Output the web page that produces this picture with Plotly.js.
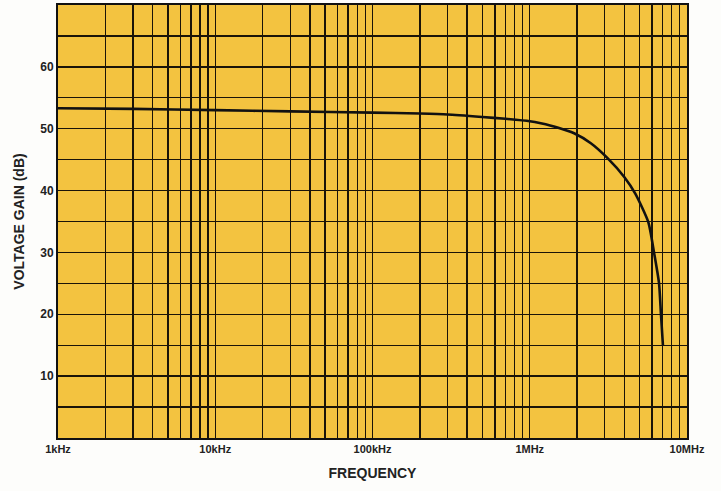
<!DOCTYPE html>
<html>
<head>
<meta charset="utf-8">
<script src="https://cdn.plot.ly/plotly-3.0.1.min.js"></script>
<style>html,body{margin:0;padding:0;background:#fdfdfb;}#chart{width:721px;height:491px;}</style>
</head>
<body>
<div id="chart"></div>
<script>
// Frequency (Hz) and voltage gain (dB)
const freqHz = [1e3, 3e3, 1e4, 3e4, 1e5, 2e5, 3e5, 5e5, 7e5, 1e6, 1.175e6, 1.5e6, 1.915e6, 2.446e6, 3.124e6, 3.99e6, 4.69e6, 5.675e6, 6.17e6, 6.64e6, 6.83e6, 7.03e6];
const gainDb = [53.3, 53.2, 53.0, 52.8, 52.6, 52.45, 52.3, 51.9, 51.6, 51.2, 50.87, 50.2, 49.26, 47.65, 45.24, 42.2, 39.5, 34.9, 30.0, 25.0, 20.0, 15.0];

// Axis labels
const decadeVals = [1e3, 1e4, 1e5, 1e6, 1e7];
const decadeLabels = ["1kHz", "10kHz", "100kHz", "1MHz", "10MHz"];
const yLabelVals = [10, 20, 30, 40, 50, 60];
const yGridStep = 5;

// Grid positions: 1..9 within each decade
const xTickVals = [], xTickText = [];
decadeVals.forEach((d, i) => {
  const last = i === decadeVals.length - 1;
  for (let m = 1; m <= (last ? 1 : 9); m++) {
    xTickVals.push(d * m);
    xTickText.push(m === 1 ? decadeLabels[i] : "");
  }
});
const yTickVals = [], yTickText = [];
for (let v = 0; v <= 70; v += yGridStep) {
  yTickVals.push(v);
  yTickText.push(yLabelVals.includes(v) ? String(v) : "");
}

const trace = {
  x: freqHz, y: gainDb, type: "scatter", mode: "lines",
  line: {color: "#111", width: 2.6, shape: "spline", smoothing: 0.6},
  hoverinfo: "skip"
};

const fontFam = "Liberation Sans, Arial, sans-serif";
const layout = {
  width: 721, height: 491,
  margin: {l: 58, r: 34, t: 5, b: 53},
  paper_bgcolor: "#fdfdfb",
  plot_bgcolor: "#f3c340",
  showlegend: false,
  xaxis: {
    type: "log", range: [3, 7],
    tickmode: "array", tickvals: xTickVals, ticktext: xTickText,
    showgrid: true, gridcolor: "#1a1408", gridwidth: 1.4,
    ticks: "", zeroline: false,
    showline: true, linecolor: "#111", linewidth: 2, mirror: true,
    tickfont: {family: fontFam, size: 11, color: "#222", weight: "bold"},
    title: {text: "FREQUENCY", standoff: 14, font: {family: fontFam, size: 14, color: "#222", weight: "bold"}}
  },
  yaxis: {
    range: [0, 70],
    tickmode: "array", tickvals: yTickVals, ticktext: yTickText,
    showgrid: true, gridcolor: "#1a1408", gridwidth: 1.4,
    ticks: "", zeroline: false,
    showline: true, linecolor: "#111", linewidth: 2, mirror: true,
    tickfont: {family: fontFam, size: 12, color: "#222", weight: "bold"},
    title: {text: "VOLTAGE GAIN (dB)", standoff: 12, font: {family: fontFam, size: 14, color: "#222", weight: "bold"}}
  }
};

Plotly.newPlot("chart", [trace], layout, {displayModeBar: false, staticPlot: true});
</script>
</body>
</html>
